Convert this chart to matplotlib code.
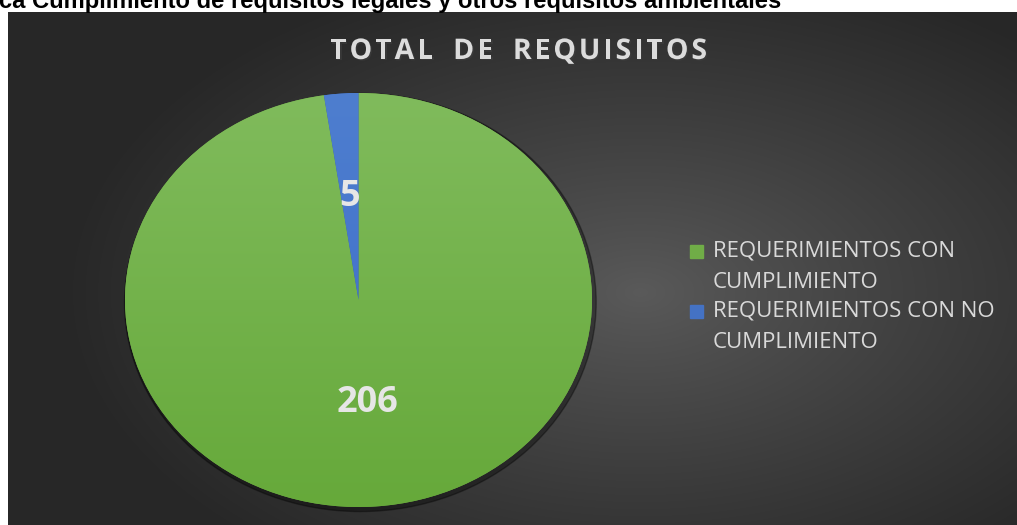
import numpy as np
import matplotlib
matplotlib.use('Agg')
import matplotlib.pyplot as plt
from matplotlib.patches import Rectangle, Ellipse
from matplotlib.colors import to_rgb
import matplotlib.patheffects as pe

# datos del grafico
categorias = ['REQUERIMIENTOS CON\nCUMPLIMIENTO', 'REQUERIMIENTOS CON NO\nCUMPLIMIENTO']
valores = [206, 5]
colores = ['#70ad47', '#4472c4']
colores_arriba = ['#80bb5c', '#4e7ecf']
colores_abajo = ['#66a93a', '#3b6cc8']
titulo = 'TOTAL DE REQUISITOS'
encabezado = 'ca Cumplimiento de requisitos legales y otros requisitos ambientales'

W, H = 1017, 525
fig = plt.figure(figsize=(W / 100, H / 100), dpi=100)
fig.patch.set_facecolor('white')


# pixel (desde arriba-izquierda) -> fraccion de figura
def fx(x):
    return x / W


def fy(y):
    return 1 - y / H


# fondo oscuro con degradado radial
bw, bh = W - 8, H - 12
bg = fig.add_axes([fx(8), 0, bw / W, bh / H])
yy, xx = np.mgrid[0:bh, 0:bw]
r = np.sqrt(((xx - 632) / 580.0) ** 2 + ((yy - 280) / 340.0) ** 2)
r = np.clip(r, 0, 1) ** 0.9
c0 = np.array(to_rgb('#5a5a5a'))
c1 = np.array(to_rgb('#272727'))
img = c0 + (c1 - c0) * r[..., None]
bg.imshow(img, extent=[0, bw, bh, 0], aspect='auto')
bg.axis('off')

# encabezado cortado arriba
fig.text(fx(-1), fy(8), encabezado, fontsize=17.1, fontweight='bold',
         family='Liberation Sans', color='black', va='baseline', ha='left')

# pastel (eliptico como en el original)
ax = fig.add_axes([fx(125), fy(507), 467 / W, 414 / H])
total = sum(valores)
wedges, textos, autotextos = ax.pie(
    valores, colors=colores, startangle=90, counterclock=False,
    autopct=lambda p: '%d' % round(p * total / 100), pctdistance=0.5,
    textprops=dict(color='#e6e6e6', fontsize=26, fontweight='bold', family='Open Sans'))

# sombra
ax.add_patch(Ellipse((0.008, -0.012), 2.02, 2.02, color='black', alpha=0.35,
                     zorder=0, clip_on=False))

# degradado vertical dentro de cada porcion
grad = np.linspace(0, 1, 256)[:, None, None]
for w, ca, cb in zip(wedges, colores_arriba, colores_abajo):
    a = np.array(to_rgb(ca))
    b = np.array(to_rgb(cb))
    g = a + (b - a) * grad
    im = ax.imshow(g, extent=[-1, 1, -1, 1], aspect='auto', zorder=1.5)
    im.set_clip_path(w)

for t in autotextos:
    t.set_zorder(5)

ax.set_xlim(-1, 1)
ax.set_ylim(-1, 1)
ax.set_aspect('auto')
ax.axis('off')

# titulo: letras con espaciado, palabras separadas ~20 px
renderer = fig.canvas.get_renderer()
props = dict(fontsize=20.5, fontweight='bold', family='Open Sans', color='#dcdcdc')
palabras = titulo.split(' ')
anchos = []
for p in palabras:
    fila = []
    for ch in p:
        t = fig.text(0, 0, ch, **props)
        fila.append(t.get_window_extent(renderer).width)
        t.remove()
    anchos.append(fila)
x0, x1, hueco = 330, 707, 20
n_letras = sum(len(p) for p in palabras)
suma = sum(sum(f) for f in anchos)
esp = (x1 - x0 - hueco * (len(palabras) - 1) - suma) / (n_letras - len(palabras))
x = x0
for p, fila in zip(palabras, anchos):
    for k, (ch, a) in enumerate(zip(p, fila)):
        fig.text(fx(x), fy(59), ch, va='baseline', ha='left', **props,
                 path_effects=[pe.withSimplePatchShadow(offset=(1, -1), alpha=0.5)])
        x += a + (esp if k < len(p) - 1 else 0)
    x += hueco

# leyenda
for i, (etq, col) in enumerate(zip(categorias, colores)):
    yb = 257 + i * 60
    fig.patches.append(Rectangle((fx(690), fy(yb + 1)), 13 / W, 13 / H,
                                 transform=fig.transFigure, color=col))
    for j, linea in enumerate(etq.split('\n')):
        fig.text(fx(713), fy(yb + j * 30.5), linea, fontsize=16, family='Open Sans',
                 color='#d9d9d9', va='baseline', ha='left')

fig.savefig('out.png', dpi=100)
